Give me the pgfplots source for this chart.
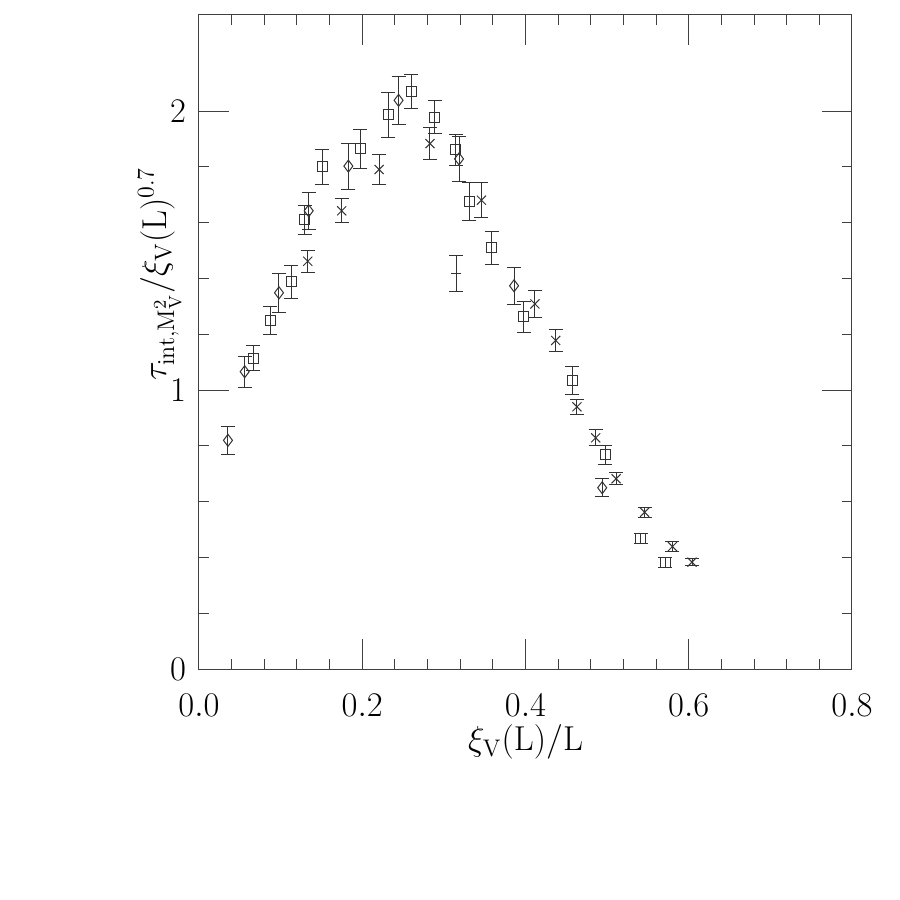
\documentclass[border=0pt]{standalone}
\usepackage{pgfplots}
\pgfplotsset{compat=1.18}
\usetikzlibrary{calc}

\pgfplotsset{
  pts/.style={only marks, black!80, line width=0.5pt,
    mark options={solid, line width=0.5pt},
    error bars/y dir=both, error bars/y explicit,
    error bars/error bar style={line width=0.5pt},
    error bars/error mark options={rotate=90, mark size=3.5pt, line width=0.5pt}},
}

\begin{document}
\begin{tikzpicture}
\begin{axis}[
  name=ax,
  scale only axis, width=326.5pt, height=327pt,
  xmin=0, xmax=0.8, ymin=0, ymax=2.345,
  xtick={0,0.2,0.4,0.6,0.8}, ytick={0,1,2},
  minor x tick num=4, minor y tick num=4,
  major tick length=15pt, minor tick length=5pt,
  tick align=inside,
  axis line style={line width=0.5pt, black!75},
  every tick/.style={line width=0.5pt, black!75},
  tick label style={font=\fontsize{16.5}{19}\selectfont},
  xticklabel style={yshift=-9pt, /pgf/number format/.cd, fixed, fixed zerofill, precision=1},
  yticklabel style={xshift=-3pt},
  xlabel={$\xi_\mathrm{V}(\mathrm{L})/\mathrm{L}$},
  ylabel={$\tau_{\mathrm{int},\mathrm{M}_\mathrm{V}^2}/\xi_\mathrm{V}(\mathrm{L})^{0.7}$},
  xlabel style={font=\fontsize{16.5}{19}\selectfont, at={(axis description cs:0.5,-0.112)}, anchor=center},
  ylabel style={font=\fontsize{18.5}{21}\selectfont, at={(axis description cs:-0.06,0.604)}, anchor=center},
]
% diamonds
\addplot[pts, mark=diamond, mark size=3pt] coordinates {
  (0.0355,0.820) +- (0,0.051)
  (0.056,1.066) +- (0,0.056)
  (0.098,1.349) +- (0,0.070)
  (0.1344,1.643) +- (0,0.067)
  (0.183,1.803) +- (0,0.083)
  (0.2445,2.039) +- (0,0.087)
  (0.3186,1.829) +- (0,0.080)
  (0.386,1.374) +- (0,0.067)
  (0.494,0.650) +- (0,0.033)
};
% squares
\addplot[pts, mark=square, mark size=2.5pt] coordinates {
  (0.0666,1.115) +- (0,0.045)
  (0.087,1.250) +- (0,0.050)
  (0.1131,1.388) +- (0,0.058)
  (0.1295,1.611) +- (0,0.052)
  (0.1507,1.800) +- (0,0.062)
  (0.1977,1.866) +- (0,0.070)
  (0.232,1.987) +- (0,0.080)
  (0.260,2.069) +- (0,0.061)
  (0.289,1.978) +- (0,0.059)
  (0.3146,1.862) +- (0,0.055)
  (0.331,1.675) +- (0,0.068)
  (0.3587,1.510) +- (0,0.060)
  (0.398,1.263) +- (0,0.056)
  (0.457,1.035) +- (0,0.051)
  (0.4976,0.769) +- (0,0.034)
  (0.541,0.467) +- (0,0.018)
  (0.571,0.383) +- (0,0.018)
};
% crosses
\addplot[pts, mark=x, mark size=3.2pt] coordinates {
  (0.1332,1.462) +- (0,0.040)
  (0.1748,1.643) +- (0,0.043)
  (0.2206,1.791) +- (0,0.053)
  (0.283,1.884) +- (0,0.056)
  (0.346,1.681) +- (0,0.062)
  (0.4116,1.309) +- (0,0.047)
  (0.437,1.178) +- (0,0.040)
  (0.463,0.940) +- (0,0.028)
  (0.486,0.829) +- (0,0.029)
  (0.511,0.682) +- (0,0.021)
  (0.546,0.562) +- (0,0.017)
  (0.580,0.439) +- (0,0.018)
  (0.604,0.383) +- (0,0.012)
};
% plus
\addplot[pts, mark=-, mark size=2.5pt] coordinates {
  (0.315,1.418) +- (0,0.065)
};
\end{axis}
\path[use as bounding box] ($(ax.south west)+(-99.5pt,-115.5pt)$) rectangle ($(ax.north east)+(24pt,7.5pt)$);
\end{tikzpicture}
\end{document}
